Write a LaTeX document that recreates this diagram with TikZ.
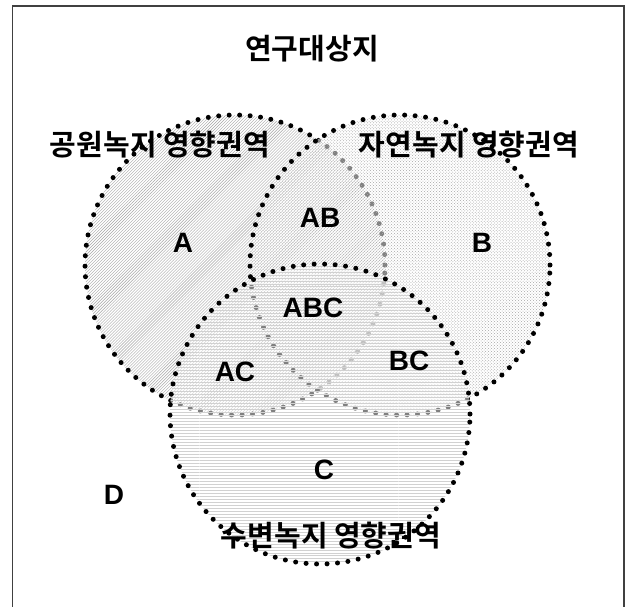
\documentclass[tikz,border=0pt]{standalone}
\usepackage{fontspec}
\setmainfont{Liberation Sans}
\newfontfamily\krfont{Noto Sans CJK KR Bold}
\usetikzlibrary{patterns}
\begin{document}
\begin{tikzpicture}[x=1bp,y=-1bp,
  dotborder/.style={draw=black, line width=5bp, line cap=round, dash pattern=on 0pt off 10.5bp},
  lighten/.style={fill=white, fill opacity=0.5},
  kt/.style={font=\krfont\fontsize{29bp}{32bp}\selectfont, inner sep=0pt},
  lt/.style={font=\bfseries\fontsize{28bp}{30bp}\selectfont, inner sep=0pt}]
\useasboundingbox (0,0) rectangle (629,607);
\fill[white] (0,0) rectangle (629,607);
\draw[black!75, line width=1.3bp] (12.5,620) -- (12.5,6) -- (624,6) -- (624,620);
\coordinate (cA) at (235,265);
\coordinate (cB) at (400,265);
\coordinate (cC) at (320,414);
% circle A
\fill[pattern=north east lines, pattern color=black!35] (cA) circle[radius=150bp];
\draw[dotborder] (cA) circle[radius=150bp];
% circle B
\fill[lighten] (cB) circle[radius=150bp];
\fill[pattern=crosshatch dots, pattern color=black!35] (cB) circle[radius=150bp];
\draw[dotborder] (cB) circle[radius=150bp];
% circle C
\fill[lighten] (cC) circle[radius=150bp];
\fill[pattern=horizontal lines, pattern color=black!18] (cC) circle[radius=150bp];
\draw[dotborder] (cC) circle[radius=150bp];
% texts
\node[kt] (title) at (312,49) {연구대상지};
\node[kt] (labA) at (160,145) {공원녹지 영향권역};
\node[kt] (labB) at (469,145) {자연녹지 영향권역};
\node[kt] (labC) at (331,536) {수변녹지 영향권역};
\node[lt] (A) at (183,243) {A};
\node[lt] (AB) at (320,218) {AB};
\node[lt] (B) at (482,243) {B};
\node[lt] (ABC) at (313,308) {ABC};
\node[lt] (AC) at (235,372) {AC};
\node[lt] (BC) at (409,361) {BC};
\node[lt] (C) at (324,470) {C};
\node[lt] (D) at (114,495) {D};
\end{tikzpicture}
\end{document}
